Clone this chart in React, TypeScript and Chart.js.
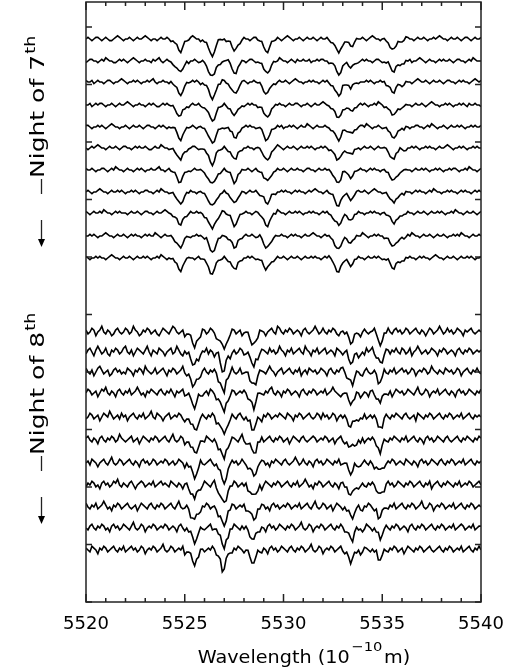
import React, { useEffect, useRef } from "react";
import { Chart, registerables } from "chart.js";

Chart.register(...registerables);

// ---------- axis data ----------
const WAVE_START = 5520;
const WAVE_END = 5540;
const WAVE_STEP = 0.1;
const X_LABEL_STEP = 5;
const X_MINOR_STEP = 1;
const Y_MIN = 0;
const Y_MAX = 600;
const Y_TICK_STEP = 57.5;

// continuum level of each spectrum (relative flux, % units)
const NIGHT7_LEVELS = [563, 541, 520, 497, 475, 454, 432, 410, 389, 366, 344];
const NIGHT8_LEVELS = [270, 250, 230, 209, 185, 162, 139, 117, 95, 74, 52];

// residual arrays below are given in these units (% of continuum)
const NIGHT7_RESIDUAL_UNIT = 1.6;
const NIGHT8_RESIDUAL_UNIT = 1.9;

// mean line profile, night of 7th (one value per 0.1 A from 5520)
const TEMPLATE_7 = [
  0,0,0,0,0,0,0,0,0,0,0,0,0,0,0,0,0,0,0,0,
  0,0,0,0,0,0,0,0,0,0,0,0,0,0,0,0,0,0,0,0,
  0,0,0,-1,-2,-4,-7,-11,-12,-8,-4,-2,-1,0,0,0,0,0,-1,-1,
  -3,-5,-9,-14,-16,-13,-8,-4,-2,-1,0,-1,-2,-4,-8,-12,-11,-6,-3,-1,
  0,0,0,0,0,0,0,-1,-2,-4,-8,-12,-12,-8,-4,-2,-1,0,0,0,
  0,0,0,0,0,0,0,0,0,0,0,0,0,0,0,0,0,0,0,0,
  0,0,0,-1,-2,-4,-8,-12,-14,-10,-5,-3,-3,-5,-7,-6,-3,-1,0,0,
  0,0,0,0,0,0,0,0,0,0,0,-1,-2,-4,-7,-10,-11,-7,-4,-3,
  -3,-3,-1,0,0,0,0,0,0,0,0,0,0,0,0,0,0,0,0,0,
  0,0,0,0,0,0,0,0,0,0,0,0,0,0,0,0,0,0,0,0,
  0,
];

// mean line profile, night of 8th
const TEMPLATE_8 = [
  0,0,0,0,0,0,0,0,0,0,0,0,0,0,0,0,0,0,0,0,
  0,0,0,0,0,0,0,0,0,0,0,0,0,0,0,0,0,0,0,0,
  0,0,0,0,0,0,0,0,0,0,-1,-2,-4,-7,-11,-14,-11,-7,-3,-1,
  0,0,0,0,0,-1,-3,-6,-11,-18,-19,-12,-6,-3,-1,0,0,0,0,0,
  -1,-2,-4,-7,-11,-13,-9,-4,-2,-1,0,0,0,0,0,0,0,0,0,0,
  0,0,0,0,0,0,0,0,0,0,0,0,0,0,0,0,0,0,0,0,
  0,0,0,0,0,0,0,0,0,0,-1,-2,-4,-7,-10,-10,-6,-3,-2,-3,
  -2,-1,0,0,0,-1,-2,-4,-8,-10,-7,-3,-1,0,0,0,0,0,0,0,
  0,0,0,0,0,0,0,0,0,0,0,0,0,0,0,0,0,0,0,0,
  0,0,0,0,0,0,0,0,0,0,0,0,0,0,0,0,0,0,0,0,
  0,
];

// residuals of each spectrum about the mean profile, night of 7th
const R7_0 = [
  0,1,0,-1,0,1,1,0,-1,0,1,0,-1,-1,0,1,2,1,0,-1,
  0,0,1,0,-1,0,1,0,0,1,2,1,0,-1,0,0,-1,0,1,0,
  0,1,0,-1,0,0,1,0,-1,0,1,0,0,1,2,1,0,0,-1,0,
  0,1,0,0,-1,0,1,2,1,0,0,-1,0,1,0,0,1,0,-1,0,
  1,0,0,-1,0,1,1,0,0,1,0,0,-1,0,1,0,0,1,0,-1,
  0,1,2,1,0,-1,0,0,1,0,-1,0,1,0,0,1,0,-1,0,1,
  0,0,1,0,-1,0,1,1,0,0,-1,0,0,1,0,-1,0,1,0,0,
  1,0,-1,0,1,2,1,0,0,-1,0,1,0,0,-1,0,1,0,1,0,
  0,1,2,1,0,0,-1,0,1,0,0,1,0,-1,0,0,1,0,1,2,
  1,0,0,-1,0,1,0,0,1,0,-1,0,1,1,0,-1,0,1,0,0,
  1,
];
const R7_1 = [
  -1,0,1,1,0,0,-1,0,1,0,2,1,0,0,-1,-1,0,1,0,1,
  0,-1,0,1,2,1,0,-1,0,0,1,0,0,-1,1,0,1,2,0,-1,
  0,1,0,0,-1,-1,0,1,1,0,0,1,-1,0,0,1,0,-1,0,1,
  1,0,-1,0,1,0,1,0,-1,0,0,1,2,1,0,0,-1,0,0,1,
  0,-1,0,1,1,0,-1,0,0,1,0,1,0,-1,0,1,0,0,2,1,
  0,0,-1,0,1,0,-1,1,0,0,1,0,0,1,-1,0,0,1,0,1,
  1,0,0,-1,0,1,2,1,0,-1,0,0,1,0,0,1,0,-1,-1,0,
  1,0,1,0,0,-1,0,1,1,0,-1,0,0,2,1,0,0,1,0,-1,
  0,0,1,0,1,-1,0,0,1,2,1,0,-1,0,1,0,0,-1,0,1,
  0,1,0,0,1,0,-1,0,1,1,0,0,-1,0,1,0,2,1,0,0,
  0,
];
const R7_2 = [
  1,0,0,1,-1,0,1,0,0,-1,0,1,1,0,-1,0,0,1,2,1,
  0,-1,0,0,1,0,1,0,-1,0,0,1,0,1,2,0,-1,0,0,1,
  0,0,-1,1,0,0,1,0,-1,-1,0,1,0,0,1,0,1,0,-1,0,
  0,1,1,0,-1,0,0,1,0,2,1,0,0,-1,0,1,0,-1,0,1,
  1,0,-1,0,0,1,0,0,1,0,-1,0,1,1,0,0,-1,0,1,0,
  0,1,0,-1,0,1,2,1,0,0,-1,0,0,1,0,1,0,0,-1,0,
  1,0,1,0,-1,0,0,1,0,-1,1,0,0,1,0,2,1,0,-1,0,
  0,0,1,0,1,0,-1,0,0,1,0,1,-1,0,1,0,0,1,1,0,
  -1,0,1,0,0,-1,0,1,2,1,0,0,1,0,-1,0,1,0,0,1,
  0,-1,0,1,1,0,0,-1,0,1,0,1,0,0,-1,0,1,2,1,0,
  1,
];
const R7_3 = [
  0,0,1,-1,0,1,0,1,1,0,-1,0,0,1,0,-1,0,1,0,0,
  1,2,1,0,-1,0,0,1,0,0,-1,0,1,0,1,0,-1,-1,0,1,
  0,1,0,0,1,0,-1,0,1,2,0,0,-1,0,1,0,0,1,0,-1,
  0,0,1,1,0,-1,0,1,0,0,1,0,-1,0,0,1,2,1,0,0,
  -1,0,1,0,1,0,0,-1,0,1,0,1,0,-1,0,0,1,0,1,0,
  0,-1,0,1,0,0,1,1,0,-1,0,0,1,0,-1,0,1,0,0,1,
  2,1,0,0,-1,0,1,0,1,0,0,-1,0,1,1,0,0,-1,0,1,
  0,1,0,-1,0,0,1,0,2,1,0,-1,0,0,1,0,1,0,0,-1,
  0,1,1,0,0,-1,0,1,0,0,1,0,-1,0,1,2,1,0,0,-1,
  0,0,1,0,1,0,-1,0,0,1,0,1,0,-1,1,0,0,1,0,0,
  -1,
];
const R7_4 = [
  1,1,0,-1,0,0,1,0,1,0,-1,0,1,2,1,0,0,-1,0,0,
  1,0,-1,0,1,0,0,1,0,-1,0,1,1,0,0,-1,0,1,0,1,
  0,-1,0,0,1,2,1,0,-1,0,0,1,0,0,1,0,-1,0,1,0,
  1,0,0,1,0,-1,0,1,0,0,-1,0,1,0,2,1,0,0,-1,0,
  0,1,0,1,0,0,-1,0,1,1,0,-1,0,0,1,0,0,1,0,1,
  -1,0,0,1,0,1,0,-1,0,1,0,0,2,1,0,-1,0,1,0,0,
  0,1,0,0,-1,0,1,1,0,0,1,0,-1,0,1,0,0,-1,0,1,
  1,0,2,1,0,-1,0,0,1,0,-1,0,1,0,1,0,0,-1,0,0,
  1,0,1,0,-1,0,0,1,1,0,0,-1,0,1,0,2,1,0,-1,0,
  0,1,0,-1,0,1,0,0,1,0,1,0,-1,0,0,1,0,1,0,0,
  1,
];
const R7_5 = [
  0,-1,0,1,0,1,2,1,0,0,-1,0,1,0,0,1,0,-1,0,1,
  1,0,0,-1,0,1,0,1,0,0,1,0,-1,-1,0,1,0,0,2,1,
  0,0,-1,0,1,0,0,1,0,1,0,-1,0,0,1,1,0,-1,0,0,
  1,0,1,0,-1,0,2,1,0,0,1,0,-1,0,0,1,0,1,0,-1,
  0,0,1,0,0,-1,0,1,1,0,0,1,0,-1,0,0,1,2,1,0,
  -1,0,1,0,0,1,0,-1,0,1,0,0,1,0,1,0,-1,0,0,1,
  0,1,0,-1,0,0,1,0,2,1,0,0,-1,0,1,0,1,0,0,-1,
  0,1,0,0,1,0,-1,0,1,0,0,1,1,0,-1,0,0,1,0,2,
  1,0,-1,0,0,1,0,1,0,-1,0,0,1,0,1,0,0,-1,0,1,
  0,0,1,2,1,0,-1,0,0,1,0,1,0,-1,0,0,1,0,1,0,
  0,
];
const R7_6 = [
  1,0,0,1,0,-1,0,0,1,1,0,-1,0,1,0,2,1,0,0,-1,
  0,1,0,0,-1,0,1,0,1,0,-1,0,0,1,0,0,1,2,0,0,
  -1,0,1,0,0,1,0,-1,0,1,1,0,0,-1,0,1,0,0,1,0,
  0,-1,0,1,2,1,0,0,-1,0,1,0,0,1,0,-1,0,1,0,1,
  0,0,1,0,-1,0,1,0,0,1,0,2,1,0,-1,0,0,1,0,0,
  1,0,-1,0,1,0,0,1,0,0,-1,0,1,1,0,0,-1,0,1,0,
  0,1,0,1,0,-1,0,0,1,0,2,1,0,0,-1,0,1,0,0,1,
  0,0,-1,0,1,0,1,0,0,-1,0,1,0,1,0,0,1,0,-1,0,
  1,2,1,0,0,-1,0,1,0,0,1,0,1,0,-1,0,0,1,0,1,
  0,-1,0,0,1,0,1,1,0,-1,0,0,1,0,2,1,0,0,-1,0,
  1,
];
const R7_7 = [
  0,1,0,-1,0,0,1,2,1,0,0,-1,0,1,0,0,1,0,1,0,
  -1,0,0,1,0,1,0,-1,0,0,1,1,0,0,-1,0,1,0,2,1,
  0,0,-1,0,1,0,0,1,0,-1,0,1,0,1,0,0,-1,0,1,0,
  1,0,0,1,2,1,0,-1,0,0,1,0,0,-1,0,1,1,0,0,1,
  0,-1,0,1,0,0,1,0,-1,0,2,1,0,0,1,0,-1,0,0,1,
  0,1,0,0,-1,0,1,0,1,0,0,-1,0,1,0,1,2,1,0,0,
  -1,0,1,0,0,1,0,-1,0,1,0,0,1,0,-1,0,0,1,1,0,
  0,1,0,-1,0,1,2,1,0,0,-1,0,1,0,0,1,0,0,-1,0,
  1,0,1,0,0,-1,0,1,0,1,0,0,-1,0,1,0,2,1,0,0,
  -1,0,0,1,0,1,0,0,-1,0,1,0,1,0,0,-1,0,1,0,1,
  0,
];
const R7_8 = [
  1,0,-1,0,1,0,0,1,0,2,1,0,0,-1,0,1,0,1,0,0,
  0,-1,0,1,0,0,1,0,-1,0,1,1,0,0,-1,0,1,0,0,1,
  2,1,0,0,-1,0,1,0,0,1,0,-1,0,1,0,0,1,0,1,0,
  -1,0,0,1,0,1,0,-1,0,2,1,0,0,1,0,-1,0,0,1,0,
  0,1,0,0,-1,0,1,1,0,0,1,0,-1,0,0,1,0,2,1,0,
  0,-1,0,1,0,0,1,0,1,0,-1,0,0,1,0,1,0,0,-1,0,
  1,0,1,0,0,-1,0,2,1,0,0,1,0,-1,0,0,1,0,1,0,
  0,-1,0,0,1,0,1,0,0,-1,0,1,0,1,2,1,0,0,-1,0,
  0,1,0,1,0,0,-1,0,1,0,0,1,0,-1,0,1,0,0,1,0,
  1,0,-1,0,0,1,0,2,1,0,0,-1,0,1,0,0,1,0,-1,0,
  1,
];
const R7_9 = [
  0,0,1,0,1,0,-1,0,0,1,2,1,0,0,-1,0,1,0,0,1,
  0,-1,0,1,0,1,0,0,-1,0,1,0,1,0,0,2,1,0,-1,0,
  1,0,0,1,0,-1,0,1,0,0,1,1,0,-1,0,0,1,0,1,0,
  0,2,1,0,0,-1,0,1,0,1,0,0,-1,0,1,0,0,1,0,-1,
  0,1,0,0,1,0,-1,0,2,1,0,0,1,0,-1,0,1,0,0,1,
  0,0,-1,0,1,0,1,0,0,-1,0,1,0,0,1,2,1,0,0,-1,
  0,1,0,1,0,0,-1,0,1,0,0,1,0,-1,0,1,0,1,0,0,
  2,1,0,-1,0,0,1,0,1,0,0,-1,0,1,0,0,1,0,-1,0,
  1,0,0,1,0,2,1,0,0,-1,0,1,0,0,1,0,-1,0,1,0,
  0,1,0,-1,0,0,1,0,1,0,2,1,0,0,-1,0,1,0,0,1,
  0,
];
const R7_10 = [
  1,0,-1,0,0,1,0,1,0,0,-1,0,1,2,1,0,0,-1,0,1,
  0,0,1,0,-1,0,1,0,0,1,0,1,0,-1,0,0,1,0,2,1,
  0,-1,0,0,1,0,1,0,-1,0,0,1,1,0,0,-1,0,1,0,0,
  1,0,0,-1,0,1,2,1,0,0,1,0,-1,0,0,1,0,1,0,-1,
  0,0,1,0,1,0,-1,0,0,1,0,0,2,1,0,-1,0,1,0,0,
  1,0,-1,0,1,0,0,1,0,-1,0,1,0,0,1,0,1,0,0,-1,
  0,1,0,2,1,0,0,-1,0,1,0,0,1,0,-1,0,1,0,1,0,
  0,-1,0,1,0,0,1,0,1,0,-1,0,0,2,1,0,0,1,0,-1,
  0,0,1,0,1,0,0,-1,0,1,0,1,0,0,-1,0,1,2,1,0,
  0,-1,0,1,0,0,1,0,-1,0,1,0,0,1,0,1,0,-1,0,0,
  1,
];

// residuals of each spectrum about the mean profile, night of 8th
const R8_0 = [
  1,-1,0,2,1,-2,0,1,3,0,-1,1,0,-2,-1,1,2,0,-1,0,
  2,1,-1,0,3,1,0,-2,-1,1,0,2,1,-1,0,1,-1,-2,0,2,
  1,0,-1,1,3,2,0,-1,0,1,-2,0,1,2,0,-1,1,0,-1,2,
  1,-1,0,2,1,0,-2,-1,1,3,1,0,-1,0,2,1,-1,0,1,-2,
  0,1,2,0,-1,1,0,-1,2,1,0,-2,0,1,2,0,-1,3,2,0,
  -1,1,0,2,1,-1,0,1,0,-2,1,2,0,-1,0,1,3,1,-1,0,
  2,0,-1,1,0,2,1,-1,-2,0,1,0,2,1,-1,0,2,1,0,-1,
  1,2,0,-1,0,1,3,1,0,-2,-1,1,0,2,0,-1,1,2,0,1,
  -1,0,2,1,-1,0,1,2,0,-1,1,0,-2,0,2,1,-1,0,1,3,
  1,-1,0,2,0,1,-1,0,2,1,0,-2,1,0,1,2,0,-1,0,1,
  0,
];
const R8_1 = [
  -1,1,2,0,-2,1,3,1,-1,0,2,-1,-2,1,0,2,1,-1,0,2,
  3,0,-1,1,-2,0,2,1,0,-1,1,3,0,-2,1,0,-1,2,1,0,
  -2,0,1,2,-1,0,3,1,-1,-2,1,0,2,0,-1,1,2,-1,0,1,
  0,2,-1,1,0,-2,1,3,0,-1,0,2,1,-2,0,1,-1,0,2,1,
  -1,0,2,1,0,-1,1,-2,0,2,1,0,-1,2,0,1,-1,0,3,1,
  0,-2,1,0,2,-1,0,1,2,0,-1,3,1,0,-2,1,0,2,-1,0,
  1,2,-1,0,1,0,-2,2,1,0,-1,1,3,0,-1,0,2,1,-2,0,
  1,-1,2,0,1,3,0,-1,1,0,-2,0,2,1,-1,1,0,2,0,-1,
  2,1,-1,0,2,-2,0,1,3,1,-1,0,1,-1,0,2,1,0,-2,1,
  0,2,1,-1,0,1,0,-2,1,2,0,-1,1,0,2,1,-1,0,1,0,
  1,
];
const R8_2 = [
  2,0,-1,1,-2,0,2,3,1,-1,0,1,-2,-1,1,2,0,1,-1,0,
  -1,2,1,0,-2,1,0,2,1,-1,3,1,0,-1,0,2,-1,0,1,2,
  0,-2,1,0,2,1,-1,0,1,3,0,-1,1,0,-2,1,2,0,-1,1,
  2,0,-1,1,0,2,1,-2,0,1,-1,2,0,1,3,0,-1,0,2,-1,
  0,1,2,-1,0,1,-2,0,2,1,0,-1,1,3,1,0,-2,0,1,2,
  -1,0,1,2,0,-1,1,0,2,-2,0,1,-1,2,1,0,1,-1,0,2,
  1,0,-2,1,2,0,-1,1,0,2,3,1,-1,0,1,-2,0,2,1,0,
  -1,1,2,0,-1,0,2,1,-2,0,1,3,0,-1,1,0,2,-1,0,1,
  2,0,1,-1,0,2,1,-2,0,1,0,2,1,-1,0,3,1,0,-1,1,
  0,-1,2,1,0,1,-1,0,2,1,-2,0,1,2,0,-1,1,0,2,0,
  -1,
];
const R8_3 = [
  0,2,1,-1,0,1,-2,0,2,1,3,0,-1,1,0,-2,1,2,0,-1,
  1,0,2,-1,0,1,3,1,-1,0,-2,1,0,2,1,0,-1,1,2,0,
  -1,1,0,2,0,-2,1,0,1,2,-1,0,2,1,0,-1,1,3,0,-1,
  0,1,-1,2,1,0,-2,0,1,2,0,1,-1,0,2,1,-1,0,1,0,
  2,1,-1,0,1,-2,0,2,1,0,-1,1,0,2,3,0,-1,1,0,-2,
  1,0,2,1,-1,0,1,0,-2,1,2,0,-1,1,0,2,1,-1,0,1,
  0,2,-1,0,1,3,1,0,-1,-2,0,1,2,0,-1,1,0,2,1,-1,
  0,1,0,-2,1,2,0,-1,1,0,2,1,0,-1,1,-2,0,2,1,0,
  1,-1,0,2,1,0,-1,1,3,0,-1,0,2,1,-2,0,1,0,2,-1,
  0,1,2,0,-1,1,0,-2,1,2,0,1,-1,0,2,1,0,-1,1,0,
  2,
];
const R8_4 = [
  -1,0,2,1,-1,0,1,-2,0,2,1,0,3,1,-1,0,1,-1,2,0,
  1,-2,0,1,2,0,-1,1,0,2,-1,0,1,3,0,-1,2,1,0,-2,
  0,1,2,-1,0,1,0,2,1,-1,-2,0,1,0,2,1,-1,0,1,2,
  0,-1,1,0,2,1,-2,0,1,3,1,0,-1,0,2,0,-1,1,2,0,
  -1,1,0,2,-1,0,1,2,0,-2,1,0,2,1,-1,0,1,0,2,1,
  0,-1,2,1,0,-2,1,0,2,1,-1,0,1,2,0,-1,0,2,1,-1,
  2,0,1,-1,0,2,1,-2,0,1,0,2,1,-1,0,3,1,0,-1,1,
  0,2,-1,0,1,0,2,1,-1,0,-2,1,2,0,-1,1,0,2,1,0,
  -1,1,2,0,-1,0,1,-2,2,1,0,-1,1,0,2,1,-1,0,1,2,
  0,-1,1,0,2,1,-1,0,1,0,2,-1,0,1,2,0,-1,1,0,1,
  0,
];
const R8_5 = [
  1,2,0,-1,1,0,-2,1,2,0,-1,1,0,2,1,-1,0,3,1,0,
  -1,0,1,2,-1,0,1,-2,0,2,1,0,-1,1,0,2,1,-1,0,1,
  2,0,-1,1,3,0,-1,0,2,1,-2,0,1,0,2,1,-1,0,1,0,
  -1,2,1,0,-1,1,0,-2,1,2,0,1,-1,0,2,1,0,-1,1,3,
  0,-1,0,2,1,0,-2,1,0,2,-1,0,1,2,0,-1,1,0,2,1,
  -1,0,1,-2,0,2,1,0,-1,1,2,0,-1,0,1,2,1,-1,0,1,
  0,2,1,-1,0,1,-2,0,1,2,0,-1,1,0,2,3,0,-1,1,0,
  2,-1,0,1,0,2,1,-1,0,-2,1,2,0,-1,1,0,2,1,0,-1,
  1,0,2,-1,0,1,2,0,-1,1,0,-2,1,2,0,1,-1,0,2,1,
  0,-1,1,2,0,-1,0,1,2,0,-1,1,0,2,1,0,-1,1,0,2,
  1,
];
const R8_6 = [
  0,1,-1,2,1,0,-2,0,1,2,0,-1,1,3,0,-1,0,2,1,-1,
  0,1,2,0,-1,1,0,-2,1,2,0,1,-1,0,2,1,-1,0,1,0,
  2,1,-1,0,1,-1,0,2,1,0,-2,1,0,2,1,-1,0,1,3,0,
  -1,0,1,2,0,-1,1,0,2,1,-1,-2,0,1,2,0,1,-1,0,2,
  1,0,-1,1,2,0,-1,0,1,2,1,-1,0,-2,1,0,2,1,0,-1,
  1,2,0,-1,0,1,3,1,-1,0,2,0,-1,1,0,-2,1,2,0,1,
  -1,0,2,1,0,-1,1,0,2,-1,0,1,2,0,-1,1,3,0,-1,0,
  1,2,0,-1,1,0,-2,0,1,2,1,-1,0,1,0,2,1,-1,0,1,
  0,-1,2,1,0,-1,1,0,-2,1,2,0,1,-1,0,2,1,0,-1,1,
  2,0,-1,1,0,2,1,-1,0,1,0,2,-1,0,1,2,0,-1,1,0,
  1,
];
const R8_7 = [
  -1,1,0,2,1,-1,0,-2,1,2,0,1,-1,0,2,1,3,0,-1,1,
  0,-1,1,2,0,-2,0,1,2,1,-1,0,1,0,2,-1,0,1,2,0,
  1,0,-1,2,1,0,-1,1,0,-2,1,2,0,-1,1,0,2,1,-1,0,
  2,1,0,-1,1,3,0,-1,0,2,1,-2,0,1,0,2,1,-1,0,1,
  0,2,-1,0,1,2,0,-1,1,-2,0,2,1,0,-1,1,0,2,1,-1,
  0,1,2,0,-1,1,0,2,-1,0,1,3,1,-1,0,-2,1,0,2,1,
  -1,0,1,2,0,-1,1,0,-2,1,2,0,1,-1,0,2,1,0,-1,1,
  2,0,-1,1,0,2,1,-1,0,1,0,-2,1,2,0,1,-1,0,2,1,
  0,-1,1,0,2,1,-1,0,1,2,0,-1,1,0,2,-2,0,1,2,0,
  -1,1,0,2,1,0,-1,1,0,2,-1,0,1,0,2,1,-1,0,1,2,
  0,
];
const R8_8 = [
  2,0,-1,1,0,2,-1,0,1,3,1,-1,0,-2,1,0,2,1,-1,0,
  1,2,0,-1,0,1,-2,0,2,1,0,-1,1,2,0,-1,1,0,2,1,
  -1,0,1,2,0,-1,1,3,0,-1,0,2,1,-2,0,1,2,0,-1,1,
  0,2,1,-1,0,1,0,-2,1,2,0,-1,1,0,2,1,-1,0,1,0,
  2,-1,0,1,2,0,-1,1,0,2,1,-1,0,-2,1,2,0,1,-1,0,
  1,0,2,1,-1,0,1,0,2,-1,0,1,2,0,-1,1,3,0,-1,0,
  2,1,-1,0,1,-2,0,2,1,0,-1,1,0,2,1,-1,0,1,2,0,
  -1,1,0,2,1,0,-1,1,-2,0,2,1,0,-1,1,0,2,-1,0,1,
  2,0,-1,1,0,2,1,-1,0,1,3,0,-1,0,2,1,-2,0,1,0,
  2,1,-1,0,1,0,2,-1,0,1,2,0,-1,1,0,2,1,-1,0,1,
  0,
];
const R8_9 = [
  0,-1,1,2,0,-1,1,0,2,1,-1,0,-2,1,2,0,1,-1,0,2,
  1,0,-1,1,3,0,-1,0,2,1,-2,0,1,0,2,1,-1,0,1,0,
  2,1,-1,0,1,0,-2,1,2,0,-1,1,0,2,1,-1,0,1,2,0,
  -1,0,1,2,-1,0,1,0,2,1,-1,0,-2,1,0,2,1,0,-1,1,
  0,2,1,-1,0,1,2,0,-1,1,0,-2,1,2,0,1,-1,0,2,1,
  0,-1,1,0,2,1,-1,0,1,3,0,-1,0,2,1,-2,0,1,0,2,
  1,-1,0,1,2,0,-1,1,0,2,1,-1,0,1,0,-2,1,2,0,1,
  -1,0,2,1,0,-1,1,0,2,-1,0,1,2,0,-1,1,0,2,1,-1,
  0,1,0,-2,1,2,0,-1,1,0,2,1,-1,0,1,2,0,-1,1,0,
  2,1,-1,0,1,0,2,-1,0,1,2,1,-1,0,1,0,2,-1,0,1,
  1,
];
const R8_10 = [
  1,0,-1,2,1,0,-2,1,0,2,1,-1,0,1,2,0,-1,1,0,2,
  -1,0,1,2,0,1,-1,0,2,1,-2,0,1,0,2,1,-1,0,1,3,
  0,-1,0,2,1,-1,0,1,0,2,-2,0,1,2,0,-1,1,0,2,1,
  -1,0,1,0,2,1,-1,0,1,-2,0,2,1,0,-1,1,0,2,1,0,
  -1,1,2,0,-1,0,1,2,0,-1,1,0,-2,1,2,0,1,-1,0,2,
  1,0,-1,1,2,0,-1,1,0,2,1,-1,0,1,3,0,-1,0,2,1,
  -2,0,1,0,2,1,-1,0,1,2,0,-1,1,0,-2,1,2,0,1,-1,
  0,2,1,0,-1,1,0,2,-1,0,1,2,0,-1,1,0,2,1,-1,0,
  1,-2,0,2,1,0,-1,1,0,2,1,-1,0,1,2,0,-1,0,1,2,
  0,-1,1,0,2,1,-1,0,1,0,2,-1,0,1,2,0,-1,1,0,2,
  0,
];

const NIGHT7_RESIDUALS = [R7_0, R7_1, R7_2, R7_3, R7_4, R7_5, R7_6, R7_7, R7_8, R7_9, R7_10];
const NIGHT8_RESIDUALS = [R8_0, R8_1, R8_2, R8_3, R8_4, R8_5, R8_6, R8_7, R8_8, R8_9, R8_10];

// ---------- labels ----------
const X_TITLE_MAIN = "Wavelength (10";
const X_TITLE_SUP = "\u221210";
const X_TITLE_END = "m)";
const NIGHT_LABELS = [
  { main: "Night of 7", sup: "th", start: 178 },
  { main: "Night of 8", sup: "th", start: 455 },
];

const FONT = '"DejaVu Sans", sans-serif';

const framePlugin = {
  id: "frameAndLabels",
  afterDraw(chart: any) {
    const { ctx, chartArea: a, scales } = chart;
    const xs = scales.x;
    const ys = scales.y;
    ctx.save();
    ctx.strokeStyle = "#222";
    ctx.fillStyle = "#000";
    ctx.lineWidth = 1.5;
    ctx.strokeRect(a.left, a.top, a.right - a.left, a.bottom - a.top);
    ctx.beginPath();
    for (let v = WAVE_START; v <= WAVE_END + 1e-9; v += X_MINOR_STEP) {
      const px = xs.getPixelForValue(v);
      const len = Math.abs(v % X_LABEL_STEP) < 1e-9 ? 8 : 4;
      ctx.moveTo(px, a.bottom);
      ctx.lineTo(px, a.bottom - len);
      ctx.moveTo(px, a.top);
      ctx.lineTo(px, a.top + len);
    }
    for (let v = Y_MIN; v <= Y_MAX + 1e-9; v += Y_TICK_STEP) {
      const py = ys.getPixelForValue(v);
      ctx.moveTo(a.left, py);
      ctx.lineTo(a.left + 6, py);
      ctx.moveTo(a.right, py);
      ctx.lineTo(a.right - 6, py);
    }
    ctx.stroke();

    // x title with superscript (wide stroke font look)
    ctx.fillStyle = "#000";
    ctx.textBaseline = "alphabetic";
    ctx.textAlign = "left";
    const mainFont = `17px ${FONT}`;
    const supFont = `13px ${FONT}`;
    const sx = 1.13;
    ctx.font = mainFont;
    const w1 = ctx.measureText(X_TITLE_MAIN).width;
    const w3 = ctx.measureText(X_TITLE_END).width;
    ctx.font = supFont;
    const w2 = ctx.measureText(X_TITLE_SUP).width;
    const total = (w1 + w2 + w3 + 3) * sx;
    ctx.save();
    ctx.translate(304 - total / 2, 663);
    ctx.scale(sx, 1);
    let tx = 0;
    ctx.font = mainFont;
    ctx.fillText(X_TITLE_MAIN, tx, 0);
    tx += w1 + 1.5;
    ctx.font = supFont;
    ctx.fillText(X_TITLE_SUP, tx, -12);
    tx += w2 + 1.5;
    ctx.font = mainFont;
    ctx.fillText(X_TITLE_END, tx, 0);
    ctx.restore();

    // rotated night labels with arrows
    for (const lab of NIGHT_LABELS) {
      ctx.save();
      ctx.translate(44, lab.start);
      ctx.rotate(-Math.PI / 2);
      ctx.scale(1.25, 1);
      ctx.font = `20px ${FONT}`;
      ctx.fillText(lab.main, 0, 0);
      const wm = ctx.measureText(lab.main).width;
      ctx.font = `14px ${FONT}`;
      ctx.fillText(lab.sup, wm + 1, -9);
      ctx.restore();

      const ax = 41.5;
      ctx.beginPath();
      ctx.lineWidth = 1.3;
      ctx.moveTo(ax, lab.start + 1);
      ctx.lineTo(ax, lab.start + 16);
      ctx.moveTo(ax, lab.start + 42);
      ctx.lineTo(ax, lab.start + 62);
      ctx.stroke();
      ctx.beginPath();
      ctx.moveTo(ax - 3.5, lab.start + 61);
      ctx.lineTo(ax + 3.5, lab.start + 61);
      ctx.lineTo(ax, lab.start + 69);
      ctx.closePath();
      ctx.fill();
    }
    ctx.restore();
  },
};

function buildDatasets() {
  const count = Math.round((WAVE_END - WAVE_START) / WAVE_STEP) + 1;
  const wave: number[] = [];
  for (let i = 0; i < count; i++) wave.push(+(WAVE_START + i * WAVE_STEP).toFixed(1));
  const make = (level: number, template: number[], resid: number[], unit: number) => ({
    data: wave.map((w, i) => ({ x: w, y: level + (template[i] ?? 0) + (resid[i] ?? 0) * unit })),
    borderColor: "#000",
    borderWidth: 1.6,
    pointRadius: 0,
    fill: false,
    tension: 0,
  });
  return [
    ...NIGHT7_LEVELS.map((lv, k) => make(lv, TEMPLATE_7, NIGHT7_RESIDUALS[k], NIGHT7_RESIDUAL_UNIT)),
    ...NIGHT8_LEVELS.map((lv, k) => make(lv, TEMPLATE_8, NIGHT8_RESIDUALS[k], NIGHT8_RESIDUAL_UNIT)),
  ];
}

export default function App() {
  const ref = useRef<HTMLCanvasElement | null>(null);
  useEffect(() => {
    if (!ref.current) return;
    const chart = new Chart(ref.current, {
      type: "line",
      data: { datasets: buildDatasets() as any },
      options: {
        animation: false,
        responsive: false,
        devicePixelRatio: 1,
        events: [],
        layout: { padding: { left: 86, right: 27, top: 2, bottom: 0 } },
        plugins: { legend: { display: false }, tooltip: { enabled: false } },
        scales: {
          x: {
            type: "linear",
            min: WAVE_START,
            max: WAVE_END,
            grid: { display: false, drawTicks: false },
            border: { display: false },
            ticks: {
              stepSize: X_LABEL_STEP,
              autoSkip: false,
              maxRotation: 0,
              padding: 12,
              color: "#000",
              font: { family: "DejaVu Sans", size: 18 },
              callback: (v: any) => String(v),
            },
            afterFit: (s: any) => {
              s.height = 68;
              s.paddingLeft = 0;
              s.paddingRight = 0;
            },
          },
          y: {
            type: "linear",
            min: Y_MIN,
            max: Y_MAX,
            grid: { display: false, drawTicks: false },
            border: { display: false },
            ticks: { display: false, stepSize: Y_TICK_STEP },
            afterFit: (s: any) => {
              s.width = 0;
            },
          },
        },
      },
      plugins: [framePlugin],
    });
    return () => chart.destroy();
  }, []);
  return (
    <div style={{ position: "absolute", left: 0, top: 0, width: 508, height: 670, background: "#fff" }}>
      <canvas ref={ref} width={508} height={670} />
    </div>
  );
}
